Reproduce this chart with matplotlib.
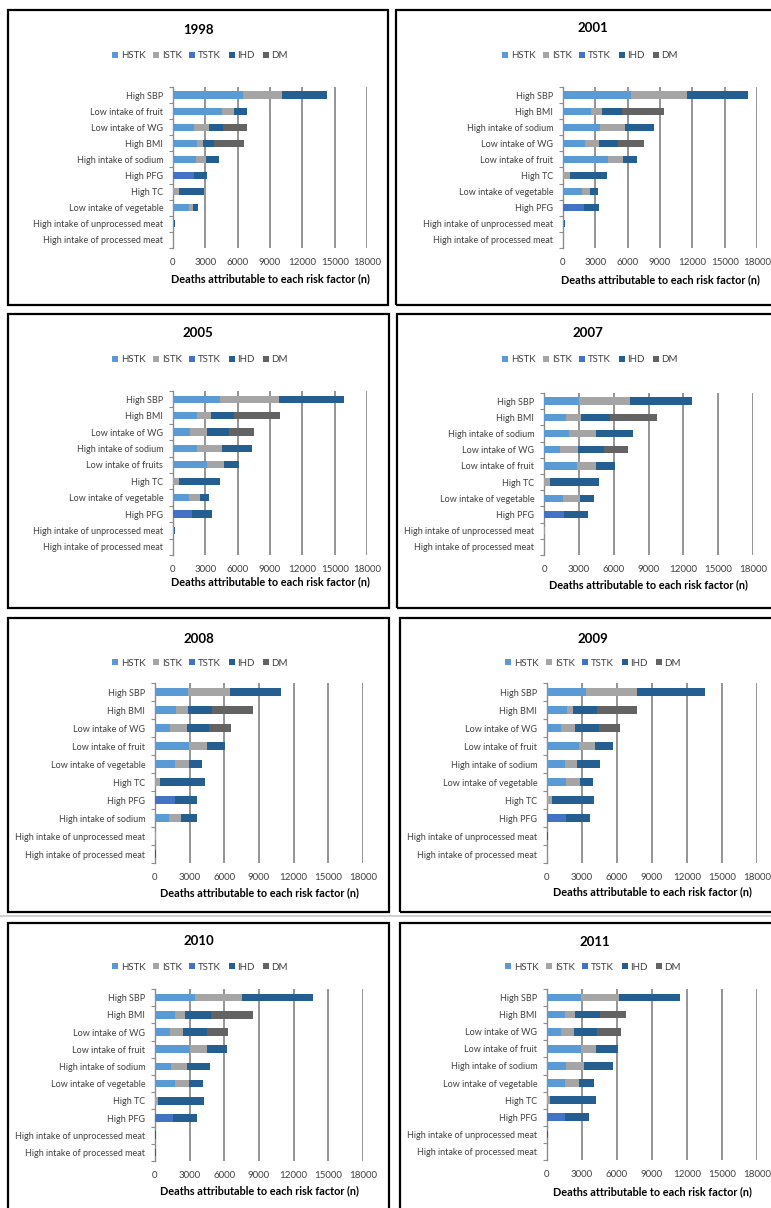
import matplotlib
matplotlib.use('Agg')
import matplotlib.pyplot as plt
from matplotlib.patches import Patch, Rectangle
from matplotlib.lines import Line2D
import numpy as np

plt.rcParams['font.family'] = ['Lato', 'DejaVu Sans']

W, H = 771, 1208

causes = ['HSTK', 'ISTK', 'TSTK', 'IHD', 'DM']
colors = ['#5B9BD5', '#A5A5A5', '#4472C4', '#255E91', '#636363']
xticks = [0, 3000, 6000, 9000, 12000, 15000, 18000]

# ---- 1998
labels_1998 = ['High SBP', 'Low intake of fruit', 'Low intake of WG', 'High BMI',
               'High intake of sodium', 'High PFG', 'High TC', 'Low intake of vegetable',
               'High intake of unprocessed meat', 'High intake of processed meat']
hstk_1998 = [6450, 4570, 1980, 2190, 2130, 0, 0, 1480, 60, 0]
istk_1998 = [3700, 1110, 1320, 560, 930, 0, 550, 400, 60, 0]
tstk_1998 = [0, 0, 0, 0, 0, 1980, 0, 0, 0, 0]
ihd_1998 = [4170, 1140, 1360, 1080, 1200, 1170, 2350, 400, 90, 0]
dm_1998 = [0, 0, 2160, 2770, 0, 0, 0, 0, 0, 0]

# ---- 2001
labels_2001 = ['High SBP', 'High BMI', 'High intake of sodium', 'Low intake of WG',
               'Low intake of fruit', 'High TC', 'Low intake of vegetable', 'High PFG',
               'High intake of unprocessed meat', 'High intake of processed meat']
hstk_2001 = [6300, 2620, 3430, 2000, 4200, 0, 1760, 0, 50, 0]
istk_2001 = [5250, 1020, 2340, 1300, 1390, 620, 770, 0, 50, 0]
tstk_2001 = [0, 0, 0, 0, 0, 0, 0, 1910, 0, 0]
ihd_2001 = [5580, 1790, 2660, 1820, 1320, 3480, 710, 1450, 70, 0]
dm_2001 = [0, 3920, 0, 2410, 0, 0, 0, 0, 0, 0]

# ---- 2005
labels_2005 = ['High SBP', 'High BMI', 'Low intake of WG', 'High intake of sodium',
               'Low intake of fruits', 'High TC', 'Low intake of vegetable', 'High PFG',
               'High intake of unprocessed meat', 'High intake of processed meat']
hstk_2005 = [4320, 2250, 1570, 2220, 3150, 0, 1480, 0, 40, 0]
istk_2005 = [5530, 1240, 1550, 2350, 1540, 550, 1020, 0, 40, 0]
tstk_2005 = [0, 0, 0, 0, 0, 0, 0, 1790, 0, 0]
ihd_2005 = [6050, 2190, 2100, 2740, 1420, 3770, 860, 1820, 60, 0]
dm_2005 = [0, 4260, 2310, 0, 0, 0, 0, 0, 0, 0]

# ---- 2007
labels_2007 = ['High SBP', 'High BMI', 'High intake of sodium', 'Low intake of WG',
               'Low intake of fruit', 'High TC', 'Low intake of vegetable', 'High PFG',
               'High intake of unprocessed meat', 'High intake of processed meat']
hstk_2007 = [3010, 1870, 2120, 1350, 2870, 0, 1670, 0, 30, 0]
istk_2007 = [4430, 1320, 2390, 1610, 1640, 520, 1400, 0, 30, 0]
tstk_2007 = [0, 0, 0, 0, 0, 0, 0, 1750, 0, 0]
ihd_2007 = [5310, 2470, 3180, 2180, 1630, 4250, 1210, 2040, 40, 0]
dm_2007 = [0, 4040, 0, 2120, 0, 0, 0, 0, 0, 0]

# ---- 2008
labels_2008 = ['High SBP', 'High BMI', 'Low intake of WG', 'Low intake of fruit',
               'Low intake of vegetable', 'High TC', 'High PFG', 'High intake of sodium',
               'High intake of unprocessed meat', 'High intake of processed meat']
hstk_2008 = [2820, 1790, 1300, 2940, 1730, 0, 0, 1240, 30, 20]
istk_2008 = [3690, 1060, 1460, 1550, 1240, 400, 0, 1010, 30, 20]
tstk_2008 = [0, 0, 0, 0, 0, 0, 1730, 0, 0, 0]
ihd_2008 = [4370, 2070, 1930, 1560, 1120, 3890, 1930, 1350, 40, 30]
dm_2008 = [0, 3570, 1930, 0, 0, 0, 0, 0, 0, 0]

# ---- 2009
labels_2009 = ['High SBP', 'High BMI', 'Low intake of WG', 'Low intake of fruit',
               'High intake of sodium', 'Low intake of vegetable', 'High TC', 'High PFG',
               'High intake of unprocessed meat', 'High intake of processed meat']
hstk_2009 = [3380, 1690, 1230, 2750, 1580, 1630, 0, 0, 20, 0]
istk_2009 = [4330, 520, 1180, 1350, 1000, 1180, 400, 0, 20, 0]
tstk_2009 = [0, 0, 0, 0, 0, 0, 0, 1660, 0, 0]
ihd_2009 = [5840, 2090, 2060, 1570, 1950, 1140, 3670, 2010, 30, 0]
dm_2009 = [0, 3440, 1750, 0, 0, 0, 0, 0, 0, 0]

# ---- 2010
labels_2010 = ['High SBP', 'High BMI', 'Low intake of WG', 'Low intake of fruit',
               'High intake of sodium', 'Low intake of vegetable', 'High TC', 'High PFG',
               'High intake of unprocessed meat', 'High intake of processed meat']
hstk_2010 = [3450, 1700, 1270, 3020, 1380, 1760, 0, 0, 20, 20]
istk_2010 = [4120, 890, 1180, 1440, 1380, 1150, 290, 0, 20, 20]
tstk_2010 = [0, 0, 0, 0, 0, 0, 0, 1550, 0, 0]
ihd_2010 = [6070, 2220, 2010, 1790, 1990, 1210, 3910, 2080, 20, 20]
dm_2010 = [0, 3680, 1900, 0, 0, 0, 0, 0, 0, 0]

# ---- 2011
labels_2011 = ['High SBP', 'High BMI', 'Low intake of WG', 'Low intake of fruit',
               'High intake of sodium', 'Low intake of vegetable', 'High TC', 'High PFG',
               'High intake of unprocessed meat', 'High intake of processed meat']
hstk_2011 = [2890, 1580, 1170, 2890, 1660, 1580, 0, 0, 20, 0]
istk_2011 = [3300, 830, 1120, 1350, 1550, 1170, 290, 0, 20, 0]
tstk_2011 = [0, 0, 0, 0, 0, 0, 0, 1520, 0, 0]
ihd_2011 = [5240, 2170, 2010, 1860, 2430, 1320, 3920, 2090, 30, 0]
dm_2011 = [0, 2150, 2030, 0, 0, 0, 0, 0, 0, 0]

years = ['1998', '2001', '2005', '2007', '2008', '2009', '2010', '2011']
all_labels = [labels_1998, labels_2001, labels_2005, labels_2007,
              labels_2008, labels_2009, labels_2010, labels_2011]
all_series = [
    [hstk_1998, istk_1998, tstk_1998, ihd_1998, dm_1998],
    [hstk_2001, istk_2001, tstk_2001, ihd_2001, dm_2001],
    [hstk_2005, istk_2005, tstk_2005, ihd_2005, dm_2005],
    [hstk_2007, istk_2007, tstk_2007, ihd_2007, dm_2007],
    [hstk_2008, istk_2008, tstk_2008, ihd_2008, dm_2008],
    [hstk_2009, istk_2009, tstk_2009, ihd_2009, dm_2009],
    [hstk_2010, istk_2010, tstk_2010, ihd_2010, dm_2010],
    [hstk_2011, istk_2011, tstk_2011, ihd_2011, dm_2011],
]

# panel geometry in pixels: frame box, plot area, title, legend, x label
boxes = [(8, 10, 388, 305), (396, 10, 790, 305),
         (8, 314, 389, 608), (397, 314, 790, 608),
         (8, 618, 389, 912), (400, 618, 790, 912),
         (8, 923, 389, 1220), (400, 923, 790, 1220)]
plots = [(173, 367, 87, 248), (563, 757, 87, 248),
         (173, 367, 391, 555), (544, 753, 393, 555),
         (155, 363, 683, 863), (547, 757, 683, 863),
         (155, 363, 989, 1161), (547, 757, 989, 1160)]
title_pos = [(198, 30), (593, 28), (198, 333), (588, 333),
             (199, 639), (593, 639), (199, 941), (595, 942)]
legend_pos = [(200, 56), (590, 56), (200, 360), (590, 360),
              (200, 663), (593, 663), (200, 967), (593, 967)]
xlabel_y = [279, 280, 582, 585, 893, 892, 1191, 1192]

fig = plt.figure(figsize=(W / 100, H / 100), dpi=100)


def fx(x):
    return x / W


def fy(y):
    return 1 - y / H


# faint page line above the last row
fig.add_artist(Line2D([0, 1], [fy(915.5), fy(915.5)], color='#c8c8c8', lw=1.2,
                      transform=fig.transFigure))

for i, year in enumerate(years):
    bx0, by0, bx1, by1 = boxes[i]
    fig.add_artist(Rectangle((fx(bx0), fy(by1)), fx(bx1 - bx0), (by1 - by0) / H,
                             transform=fig.transFigure, fill=False,
                             edgecolor='black', lw=1.6, zorder=5))

    px0, px1, py0, py1 = plots[i]
    ax = fig.add_axes([fx(px0), fy(py1), fx(px1 - px0), (py1 - py0) / H])
    labels = all_labels[i]
    series = all_series[i]
    y = np.arange(len(labels))
    left = np.zeros(len(labels))
    for vals, c in zip(series, colors):
        vals = np.array(vals, dtype=float)
        ax.barh(y, vals, left=left, height=0.45, color=c, zorder=3)
        left += vals

    ax.set_xlim(0, 18000)
    ax.set_ylim(len(labels) - 0.5, -0.5)
    ax.set_xticks(xticks)
    ax.set_xticklabels([str(t) for t in xticks])
    ax.grid(axis='x', color='#8c8c8c', lw=1.3, zorder=0)
    ax.set_yticks(y)
    ax.set_yticklabels(labels)
    ax.set_yticks(np.arange(len(labels) + 1) - 0.5, minor=True)
    ax.tick_params(axis='y', which='major', length=0, pad=7, labelsize=6.5,
                   labelcolor='#404040')
    ax.tick_params(axis='y', which='minor', length=3, width=0.8, color='#8c8c8c')
    ax.tick_params(axis='x', length=0, pad=7, labelsize=7, labelcolor='#404040')
    for s in ['top', 'right', 'bottom']:
        ax.spines[s].set_visible(False)
    ax.spines['left'].set_color('#8c8c8c')
    ax.spines['left'].set_linewidth(1.0)
    ax.patch.set_alpha(0)

    tx, ty = title_pos[i]
    fig.text(fx(tx), fy(ty), year, ha='center', va='center', fontsize=9.5,
             fontweight='bold', color='black')
    fig.text(fx((px0 + px1) / 2), fy(xlabel_y[i]),
             'Deaths attributable to each risk factor (n)', ha='center',
             va='center', fontsize=7.8, fontweight='bold', color='black')

    lx, ly = legend_pos[i]
    handles = [Patch(facecolor=c, edgecolor='none') for c in colors]
    fig.legend(handles, causes, loc='center', bbox_to_anchor=(fx(lx), fy(ly)),
               ncol=5, frameon=False, fontsize=7, handlelength=0.6,
               handleheight=0.6, handletextpad=0.3, columnspacing=0.8,
               borderpad=0, labelcolor='#404040')

fig.savefig('out.png', dpi=100, facecolor='white')
